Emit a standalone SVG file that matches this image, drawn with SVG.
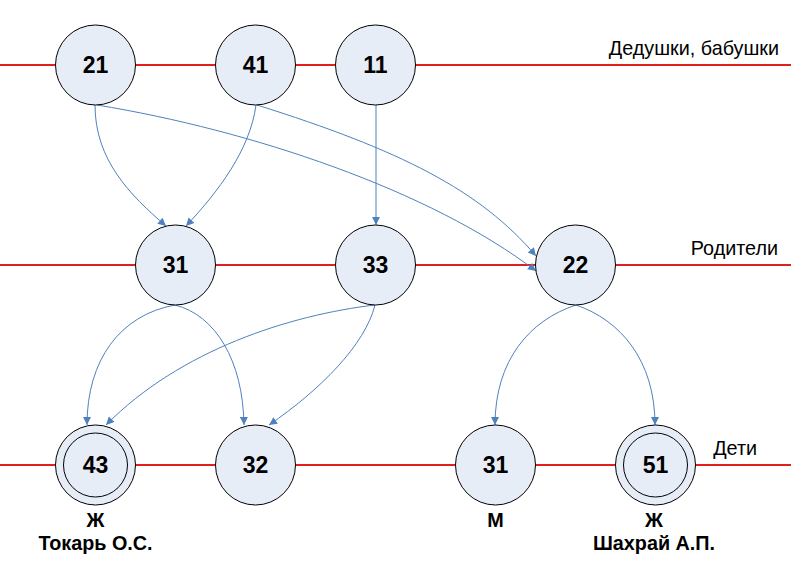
<svg xmlns="http://www.w3.org/2000/svg" width="791" height="570" viewBox="0 0 791 570">
<style>
.bg{fill:#ffffff}
.tier{stroke:#e02020;stroke-width:2;fill:none}
.node{fill:#e7edf7;stroke:#000;stroke-width:1}
.num{font-family:"Liberation Sans",Arial,sans-serif;font-weight:bold;font-size:23px;text-anchor:middle;fill:#000}
.lvl{font-family:"Liberation Sans",Arial,sans-serif;font-size:19.8px;text-anchor:end;fill:#000}
.cap{font-family:"Liberation Sans",Arial,sans-serif;font-weight:bold;font-size:19.8px;text-anchor:middle;fill:#000}
.edge{fill:none;stroke:#4f81bd;stroke-width:1;marker-end:url(#arr)}
</style>
<defs>
<marker id="arr" viewBox="0 0 10 10" refX="10" refY="5" markerWidth="10" markerHeight="8" markerUnits="userSpaceOnUse" orient="auto">
<path d="M0,0 L10,5 L0,10 z" fill="#4f81bd"/>
</marker>
</defs>
<rect class="bg" x="0" y="0" width="791" height="570"/>
<g id="tiers">
<line class="tier" x1="0" y1="65" x2="791" y2="65"/>
<line class="tier" x1="0" y1="265" x2="791" y2="265"/>
<line class="tier" x1="0" y1="465" x2="791" y2="465"/>
<text class="lvl" x="779" y="55">Дедушки, бабушки</text>
<text class="lvl" x="778" y="255">Родители</text>
<text class="lvl" x="757" y="455">Дети</text>
</g>
<g id="connectors">
<path class="edge" d="M95,105 C95,160 130,195 166,226"/>
<path class="edge" d="M256,105 C250,150 218,192 186,226"/>
<path class="edge" d="M97,105 C250,130 430,190 536,271"/>
<path class="edge" d="M257,105 C400,150 480,190 536,256"/>
<path class="edge" d="M376,105 L376,225"/>
<path class="edge" d="M175,305 C120,315 87,360 87,425"/>
<path class="edge" d="M175,305 C215,315 243,360 244,425"/>
<path class="edge" d="M375,305 C290,315 180,350 106,425"/>
<path class="edge" d="M375,305 C365,345 320,390 269,425"/>
<path class="edge" d="M576,305 C530,320 495,360 495,425"/>
<path class="edge" d="M576,305 C620,320 655,360 655,425"/>
</g>
<g id="n21"><circle class="node" cx="95.5" cy="65" r="40"/><text class="num" x="95.5" y="73">21</text></g>
<g id="n41"><circle class="node" cx="255.5" cy="65" r="40"/><text class="num" x="255.5" y="73">41</text></g>
<g id="n11"><circle class="node" cx="375.5" cy="65" r="40"/><text class="num" x="375.5" y="73">11</text></g>
<g id="n31p"><circle class="node" cx="175.5" cy="265" r="40"/><text class="num" x="175.5" y="273">31</text></g>
<g id="n33"><circle class="node" cx="375.5" cy="265" r="40"/><text class="num" x="375.5" y="273">33</text></g>
<g id="n22"><circle class="node" cx="575.5" cy="265" r="40"/><text class="num" x="575.5" y="273">22</text></g>
<g id="n43"><circle class="node" cx="95.5" cy="465" r="40"/><circle class="node" cx="95.5" cy="465" r="32"/><text class="num" x="95.5" y="473">43</text><text class="cap" x="95.5" y="527">Ж</text><text class="cap" x="95.5" y="550">Токарь О.С.</text></g>
<g id="n32"><circle class="node" cx="255.5" cy="465" r="40"/><text class="num" x="255.5" y="473">32</text></g>
<g id="n31c"><circle class="node" cx="495.5" cy="465" r="40"/><text class="num" x="495.5" y="473">31</text><text class="cap" x="495.5" y="527">М</text></g>
<g id="n51"><circle class="node" cx="655.5" cy="465" r="40"/><circle class="node" cx="655.5" cy="465" r="32"/><text class="num" x="655.5" y="473">51</text><text class="cap" x="654" y="527">Ж</text><text class="cap" x="654" y="550">Шахрай А.П.</text></g>
</svg>
